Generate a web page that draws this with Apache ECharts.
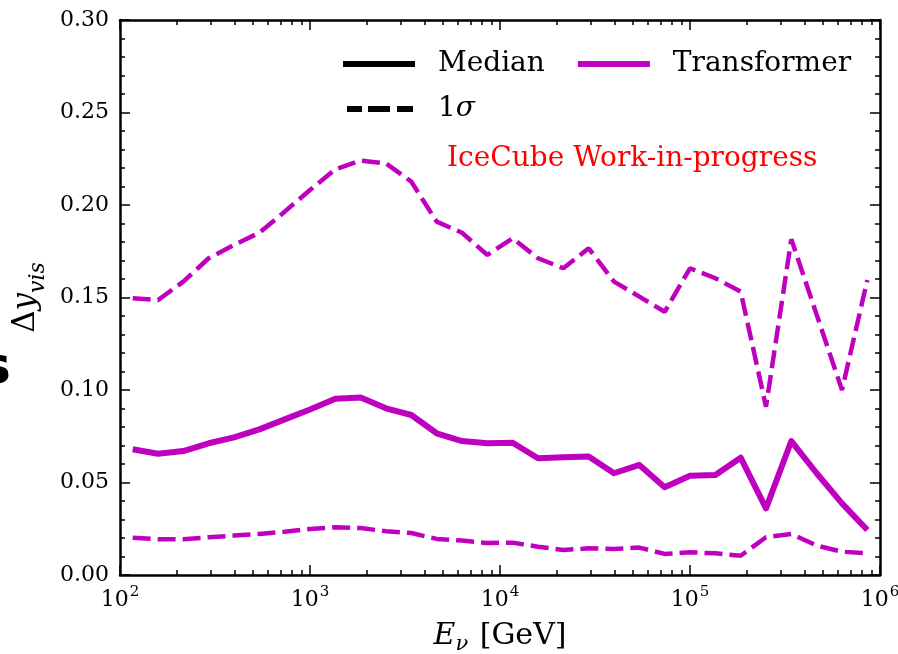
<!DOCTYPE html>
<html>
<head>
<meta charset="utf-8">
<script src="https://cdn.jsdelivr.net/npm/echarts@6/dist/echarts.min.js"></script>
<style>
  html, body { margin: 0; padding: 0; background: #fff; }
  #chart { width: 898px; height: 654px; }
</style>
</head>
<body>
<div id="chart"></div>
<script>
// Bin centres of the neutrino energy bins [GeV]
const energy = [116.6, 158.5, 215.4, 292.9, 398.1, 541.2, 735.6, 1000, 1359, 1848,
  2512, 3415, 4642, 6310, 8577, 11659, 15849, 21544, 29286, 39811,
  54117, 73564, 100000, 135936, 184785, 251189, 341455, 464159, 630957, 857696];

// Resolution of the visible inelasticity, Transformer reconstruction
const median = [0.0680, 0.0655, 0.0670, 0.0712, 0.0744, 0.0787, 0.0841, 0.0895, 0.0953, 0.0960,
  0.0901, 0.0865, 0.0766, 0.0724, 0.0712, 0.0715, 0.0631, 0.0636, 0.0640, 0.0550,
  0.0595, 0.0474, 0.0537, 0.0541, 0.0634, 0.0360, 0.0724, 0.0550, 0.0387, 0.0243];
const sigmaHigh = [0.1496, 0.1486, 0.1586, 0.1712, 0.1784, 0.1850, 0.1964, 0.2081, 0.2193, 0.2240,
  0.2225, 0.2126, 0.1910, 0.1850, 0.1730, 0.1820, 0.1712, 0.1658, 0.1766, 0.1586,
  0.1505, 0.1423, 0.1658, 0.1604, 0.1532, 0.0910, 0.1815, 0.1407, 0.1000, 0.1595];
const sigmaLow = [0.0202, 0.0193, 0.0193, 0.0204, 0.0213, 0.0222, 0.0234, 0.0249, 0.0258, 0.0254,
  0.0236, 0.0227, 0.0195, 0.0186, 0.0173, 0.0175, 0.0153, 0.0135, 0.0144, 0.0141,
  0.0148, 0.0114, 0.0123, 0.0117, 0.0104, 0.0204, 0.0222, 0.0159, 0.0126, 0.0117];

// Axis ticks
const xMajorTicks = [100, 1000, 10000, 100000, 1000000];
const xMinorTicks = [200, 300, 400, 500, 600, 700, 800, 900,
  2000, 3000, 4000, 5000, 6000, 7000, 8000, 9000,
  20000, 30000, 40000, 50000, 60000, 70000, 80000, 90000,
  200000, 300000, 400000, 500000, 600000, 700000, 800000, 900000];

const FONT = '"DejaVu Serif", "Liberation Serif", serif';
const MAGENTA = '#bf00bf';

const chart = echarts.init(document.getElementById('chart'), null, { renderer: 'canvas' });

const pair = (xs, ys) => xs.map((x, i) => [x, ys[i]]);

function xAxisDef(position, major, showLabels) {
  return {
    type: 'log',
    logBase: 10,
    min: 100,
    max: 1000000,
    position: position,
    axisLine: { show: major, lineStyle: { color: '#000', width: 2.5 } },
    axisTick: {
      show: true,
      inside: true,
      length: major ? 10 : 5,
      lineStyle: { color: '#000', width: 1.5 },
      customValues: major ? xMajorTicks : xMinorTicks
    },
    axisLabel: {
      show: showLabels,
      margin: 10,
      customValues: xMajorTicks,
      formatter: v => '{b|10}{sup|' + Math.round(Math.log10(v)) + '}',
      rich: {
        b: { fontFamily: FONT, fontSize: 22, color: '#000', lineHeight: 26, verticalAlign: 'bottom' },
        sup: { fontFamily: FONT, fontSize: 15, color: '#000', lineHeight: 26, verticalAlign: 'top', padding: [0, 0, 8, 1] }
      }
    },
    splitLine: { show: false },
    minorTick: { show: false },
    name: showLabels ? '{e|E}{nu|ν}{t| [GeV]}' : '',
    nameLocation: 'middle',
    nameGap: 36,
    nameTextStyle: {
      rich: {
        e: { fontFamily: FONT, fontStyle: 'italic', fontSize: 30, color: '#000', lineHeight: 36, verticalAlign: 'bottom' },
        nu: { fontFamily: FONT, fontStyle: 'italic', fontSize: 21, color: '#000', lineHeight: 40, verticalAlign: 'bottom', padding: [0, 2, -4, 0] },
        t: { fontFamily: FONT, fontSize: 30, color: '#000', lineHeight: 36, verticalAlign: 'bottom' }
      }
    }
  };
}

function yAxisDef(position, showLabels) {
  return {
    type: 'value',
    min: 0,
    max: 0.30,
    interval: 0.05,
    position: position,
    axisLine: { show: true, lineStyle: { color: '#000', width: 2.5 } },
    axisTick: { show: true, inside: true, length: 10, lineStyle: { color: '#000', width: 1.5 } },
    minorTick: { show: true, splitNumber: 5, length: 5, lineStyle: { color: '#000', width: 1.5 } },
    axisLabel: {
      show: showLabels,
      margin: 11,
      fontFamily: FONT,
      fontSize: 22,
      color: '#000',
      formatter: v => v.toFixed(2)
    },
    splitLine: { show: false },
    name: showLabels ? '{d|Δ}{y|y}{s|vis}' : '',
    nameLocation: 'middle',
    nameRotate: 90,
    nameGap: 66,
    nameTextStyle: {
      rich: {
        d: { fontFamily: FONT, fontSize: 31, color: '#000', lineHeight: 36, verticalAlign: 'bottom' },
        y: { fontFamily: FONT, fontStyle: 'italic', fontSize: 31, color: '#000', lineHeight: 36, verticalAlign: 'bottom' },
        s: { fontFamily: FONT, fontStyle: 'italic', fontSize: 22, color: '#000', lineHeight: 44, verticalAlign: 'bottom', padding: [0, 0, -8, 0] }
      }
    }
  };
}

function legendText(gap) {
  return {
    fontFamily: FONT,
    fontSize: 28,
    lineHeight: 36,
    color: '#000',
    padding: [0, 0, 0, gap],
    rich: {
      i: { fontFamily: FONT, fontStyle: 'italic', fontSize: 28, lineHeight: 36, color: '#000' }
    }
  };
}

const option = {
  animation: false,
  backgroundColor: '#fff',
  grid: { left: 120, top: 20, right: 18, bottom: 79, outerBoundsMode: 'none' },
  xAxis: [
    xAxisDef('bottom', true, true),
    xAxisDef('bottom', false, false),
    xAxisDef('top', true, false),
    xAxisDef('top', false, false)
  ],
  yAxis: [
    yAxisDef('left', true),
    yAxisDef('right', false)
  ],
  legend: [
    {
      data: [
        { name: 'Median', icon: 'rect' },
        { name: 'Transformer', icon: 'rect' }
      ],
      left: 343,
      top: 46,
      padding: 0,
      orient: 'horizontal',
      itemWidth: 72,
      itemHeight: 6,
      itemGap: 33,
      selectedMode: false,
      textStyle: legendText(18)
    },
    {
      data: [
        { name: '1σ', icon: 'path://M0,0H15V6H0Z M21,0H43V6H21Z M50,0H66V6H50Z' }
      ],
      left: 347,
      top: 91,
      padding: 0,
      orient: 'horizontal',
      itemWidth: 66,
      itemHeight: 6,
      selectedMode: false,
      formatter: name => name === '1σ' ? '1{i|σ}' : name,
      textStyle: legendText(20)
    }
  ],
  graphic: [
    {
      type: 'text',
      left: 447,
      top: 145,
      style: {
        text: 'IceCube Work-in-progress',
        fontFamily: FONT,
        fontSize: 28,
        fill: '#ff0000'
      }
    },
    {
      type: 'text',
      left: -20,
      top: 343,
      style: {
        text: 's',
        fontFamily: '"DejaVu Sans", sans-serif',
        fontWeight: 'bold',
        fontSize: 52,
        fill: '#000'
      }
    }
  ],
  series: [
    {
      name: 'Median',
      type: 'line',
      data: [],
      symbol: 'none',
      lineStyle: { color: '#000', width: 6 },
      itemStyle: { color: '#000' }
    },
    {
      name: '1σ',
      type: 'line',
      data: [],
      symbol: 'none',
      lineStyle: { color: '#000', width: 5, type: [16, 7] },
      itemStyle: { color: '#000' }
    },
    {
      name: 'Transformer',
      type: 'line',
      data: pair(energy, median),
      symbol: 'none',
      lineStyle: { color: MAGENTA, width: 6, join: 'round' },
      itemStyle: { color: MAGENTA }
    },
    {
      name: 'Transformer 1σ upper',
      type: 'line',
      data: pair(energy, sigmaHigh),
      symbol: 'none',
      lineStyle: { color: MAGENTA, width: 4.5, type: [18, 7] },
      itemStyle: { color: MAGENTA }
    },
    {
      name: 'Transformer 1σ lower',
      type: 'line',
      data: pair(energy, sigmaLow),
      symbol: 'none',
      lineStyle: { color: MAGENTA, width: 4.5, type: [18, 7] },
      itemStyle: { color: MAGENTA }
    }
  ]
};

chart.setOption(option);
</script>
</body>
</html>
